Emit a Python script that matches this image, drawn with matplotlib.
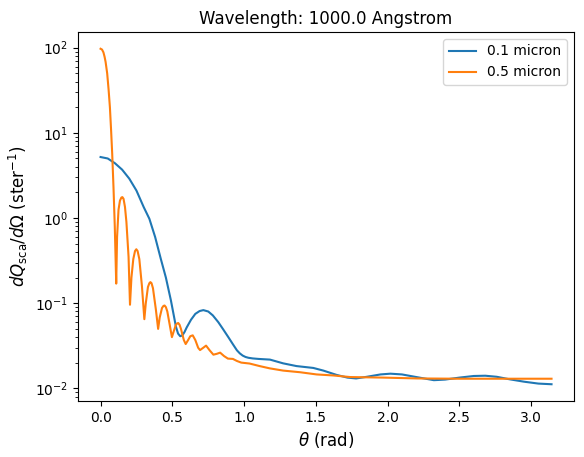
import numpy as np
import matplotlib
matplotlib.use("Agg")
import matplotlib.pyplot as plt

# values (theta in rad, dQ/dOmega in ster^-1)
theta_01 = [0.000, 0.050, 0.100, 0.150, 0.200, 0.250, 0.300, 0.340, 0.380, 0.420,
            0.455, 0.490, 0.510, 0.525, 0.540, 0.555, 0.570, 0.585, 0.600, 0.630,
            0.660, 0.690, 0.716, 0.750, 0.782, 0.820, 0.852, 0.890, 0.922, 0.950,
            0.970, 0.990, 1.010, 1.030, 1.060, 1.100, 1.180, 1.272, 1.365, 1.482,
            1.552, 1.645, 1.720, 1.780, 1.855, 1.950, 2.019, 2.100, 2.200, 2.322,
            2.400, 2.500, 2.600, 2.680, 2.760, 2.850, 2.950, 3.050, 3.1416]
dq_01 = [5.2, 5.0, 4.4, 3.7, 2.9, 2.1, 1.35, 0.98, 0.6, 0.33,
         0.2, 0.108, 0.072, 0.053, 0.044, 0.041, 0.042, 0.046, 0.052, 0.064,
         0.075, 0.081, 0.083, 0.080, 0.072, 0.060, 0.050, 0.040, 0.033, 0.028,
         0.0258, 0.0243, 0.0234, 0.0229, 0.0225, 0.0222, 0.0218, 0.0197, 0.0183, 0.0174,
         0.0162, 0.0144, 0.0134, 0.0131, 0.0137, 0.0146, 0.0149, 0.0146, 0.0136, 0.0125,
         0.0127, 0.0134, 0.0140, 0.0141, 0.0137, 0.0128, 0.0120, 0.0114, 0.0112]

theta_05 = [0.000, 0.010, 0.020, 0.028, 0.035, 0.046, 0.056, 0.065, 0.073, 0.081,
            0.090, 0.099, 0.109, 0.115, 0.125, 0.135, 0.145, 0.152, 0.160, 0.170,
            0.180, 0.195, 0.205,
            0.215, 0.228, 0.240, 0.249, 0.258, 0.270, 0.288, 0.305,
            0.315, 0.330, 0.340, 0.347, 0.355, 0.365, 0.385, 0.401,
            0.412, 0.428, 0.438, 0.446, 0.455, 0.465, 0.485, 0.497,
            0.510, 0.525, 0.534, 0.541, 0.550, 0.560, 0.580, 0.593,
            0.610, 0.625, 0.642, 0.660, 0.680, 0.693,
            0.715, 0.735, 0.760, 0.786, 0.810, 0.833, 0.860, 0.887,
            0.922, 0.950, 0.980, 1.038, 1.108, 1.179, 1.272, 1.389, 1.505,
            1.622, 1.739, 1.855, 1.972, 2.206, 2.500, 2.800, 3.1416]
dq_05 = [97, 95, 88, 78, 68, 50, 32, 20, 11, 5.7,
         2.3, 0.8, 0.17, 0.6, 1.25, 1.6, 1.74, 1.76, 1.68, 1.35,
         0.9, 0.35, 0.096,
         0.2, 0.33, 0.41, 0.43, 0.41, 0.33, 0.16, 0.065,
         0.1, 0.155, 0.172, 0.177, 0.172, 0.15, 0.085, 0.050,
         0.068, 0.088, 0.093, 0.094, 0.090, 0.08, 0.052, 0.040,
         0.047, 0.056, 0.058, 0.0586, 0.056, 0.050, 0.037, 0.0332,
         0.037, 0.041, 0.042, 0.037, 0.030, 0.0282,
         0.030, 0.0318, 0.028, 0.0249, 0.0255, 0.0263, 0.0240, 0.0224,
         0.0222, 0.021, 0.0201, 0.0196, 0.0183, 0.0172, 0.0162, 0.0155, 0.0146,
         0.0142, 0.0136, 0.0135, 0.0134, 0.0131, 0.0130, 0.0130, 0.0130]

labels = ["0.1 micron", "0.5 micron"]

fig, ax = plt.subplots(figsize=(5.84, 4.57), dpi=100)
fig.subplots_adjust(left=0.1336, right=0.983, top=0.930, bottom=0.1225)

ax.plot(theta_01, dq_01, label=labels[0])
ax.plot(theta_05, dq_05, label=labels[1])
ax.set_yscale("log")

ax.set_xlabel(r"$\theta$ (rad)", fontsize=12)
ax.set_ylabel(r"$dQ_{\rm sca}/d\Omega$ (ster$^{-1}$)", fontsize=12)
ax.set_title("Wavelength: 1000.0 Angstrom")
ax.legend(loc="upper right")

fig.savefig("out.png", dpi=100)
